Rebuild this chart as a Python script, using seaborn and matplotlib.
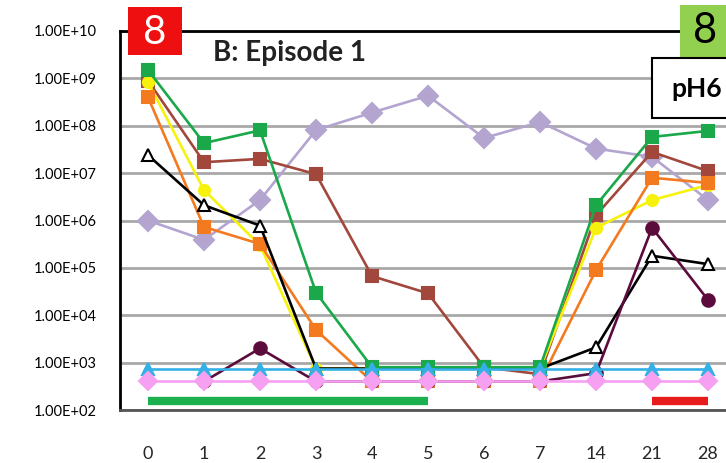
import seaborn as sns
import matplotlib.pyplot as plt
import numpy as np
import pandas as pd
from matplotlib.patches import Rectangle
from matplotlib.ticker import FixedLocator, FuncFormatter, LogLocator, NullFormatter

sns.set_style("white")
plt.rcParams["font.family"] = ["Lato", "DejaVu Sans"]

# sampling days (categorical x axis)
days = ["0", "1", "2", "3", "4", "5", "6", "7", "14", "21", "28"]

# counts per series
green_sq = [1.5e9, 4.3e7, 8.0e7, 3.0e4, 8e2, 8e2, 8e2, 8e2, 2.1e6, 5.8e7, 7.8e7]
brown_sq = [9.0e8, 1.7e7, 2.0e7, 9.5e6, 6.7e4, 2.9e4, 8e2, 5.7e2, 1.3e6, 2.8e7, 1.1e7]
orange_sq = [4.0e8, 7.3e5, 3.2e5, 4.9e3, 4e2, 4e2, 4e2, 4e2, 9.0e4, 8.0e6, 6.2e6]
yellow_ci = [8.3e8, 4.4e6, 3.0e5, 7.5e2, 7.5e2, 7.5e2, 7.5e2, 7.5e2, 7.0e5, 2.7e6, 5.6e6]
black_tri = [2.4e7, 2.1e6, 7.8e5, 7.5e2, 7.5e2, 7.5e2, 7.5e2, 7.5e2, 2.1e3, 1.8e5, 1.2e5]
maroon_ci = [np.nan, 4e2, 2.0e3, 4e2, 4e2, 4e2, 4e2, 4e2, 6e2, 7.0e5, 2.1e4]
purple_di = [1.0e6, 3.9e5, 2.7e6, 8.1e7, 1.9e8, 4.3e8, 5.5e7, 1.2e8, 3.3e7, 2.2e7, 2.7e6]
cyan_tri = [7.5e2] * 11
pink_di = [4e2] * 11

# treatment bars near the bottom
green_bar = [1.55e2] * 6 + [np.nan] * 5
red_bar = [np.nan] * 9 + [1.55e2] * 2

pos = np.arange(len(days))

fig = plt.figure(figsize=(7.26, 4.63), dpi=100)
ax = fig.add_axes([120 / 726, 1 - 410 / 463, 606 / 726, 379 / 463])

series = [
    (purple_di, "#b3a4d0", "D", 10, "#b3a4d0"),
    (brown_sq, "#a2473c", "s", 9, "#a2473c"),
    (yellow_ci, "#f7f20c", "o", 8, "#f7f20c"),
    (orange_sq, "#f47a20", "s", 9, "#f47a20"),
    (black_tri, "black", "^", 9, "white"),
    (green_sq, "#1aa84b", "s", 9, "#1aa84b"),
    (maroon_ci, "#5c0c3c", "o", 9, "#5c0c3c"),
    (cyan_tri, "#34b0e6", "^", 9, "#34b0e6"),
    (pink_di, "#f6a0f2", "D", 9, "#f6a0f2"),
]

for i, (vals, col, mk, ms, fc) in enumerate(series):
    df = pd.DataFrame({"x": pos, "y": vals})
    sns.lineplot(data=df, x="x", y="y", ax=ax, color=col, marker=mk,
                 markersize=ms, markerfacecolor=fc, markeredgecolor=col,
                 markeredgewidth=1.5, linewidth=1.9, zorder=3 + i)

for vals, col in [(green_bar, "#1db04f"), (red_bar, "#e81c1c")]:
    df = pd.DataFrame({"x": pos, "y": vals})
    sns.lineplot(data=df, x="x", y="y", ax=ax, color=col, linewidth=6,
                 solid_capstyle="butt", zorder=3)

ax.set_yscale("log")
ax.set_ylim(1e2, 1e10)
ax.set_xlim(-0.5, 10.32)
ax.set_xlabel("")
ax.set_ylabel("")

ax.yaxis.set_major_locator(FixedLocator([10.0 ** k for k in range(2, 11)]))
ax.yaxis.set_major_formatter(FuncFormatter(lambda v, p: f"{v:.2E}"))
ax.yaxis.set_minor_locator(LogLocator(base=10, subs=np.arange(2, 10)))
ax.yaxis.set_minor_formatter(NullFormatter())
ax.tick_params(axis="y", which="major", direction="out", length=5, width=1.5,
               labelsize=10.5, colors="black", pad=12)
ax.tick_params(axis="y", which="minor", direction="inout", length=4, width=1)
ax.grid(axis="y", which="major", color="#a8a8a8", linewidth=2)

ax.set_xticks(pos)
ax.set_xticklabels(days)
ax.set_xticks(pos[:-1] + 0.5, minor=True)
ax.tick_params(axis="x", which="major", length=0, labelsize=13, pad=26)
ax.tick_params(axis="x", which="minor", direction="out", length=6, width=1.5,
               color="#333333")

ax.spines["right"].set_visible(False)
ax.spines["left"].set_color("black")
ax.spines["left"].set_linewidth(2)
ax.spines["top"].set_color("black")
ax.spines["top"].set_linewidth(2)
ax.spines["bottom"].set_color("#555555")
ax.spines["bottom"].set_linewidth(2)


def fig_box(x0, y0, x1, y1, fc, ec="none", lw=0):
    # box given in pixels from the top-left corner
    fig.patches.append(Rectangle((x0 / 726, 1 - y1 / 463), (x1 - x0) / 726,
                                 (y1 - y0) / 463, transform=fig.transFigure,
                                 fc=fc, ec=ec, lw=lw, zorder=5))


fig_box(128, 7, 182, 55, "#ee1010")
fig_box(680, 5, 740, 58, "#92d050")
fig_box(652, 58, 745, 118, "white", ec="black", lw=1.5)

fig.text(155 / 726, 1 - 32 / 463, "8", color="white", fontsize=29,
         ha="center", va="center", zorder=6)
fig.text(705 / 726, 1 - 31 / 463, "8", color="black", fontsize=30,
         ha="center", va="center", zorder=6)
fig.text(697 / 726, 1 - 89 / 463, "pH6", color="black", fontsize=19,
         fontweight="bold", ha="center", va="center", zorder=6)
fig.text(213 / 726, 1 - 53 / 463, "B: Episode 1", color="#222222",
         fontsize=20, fontweight="bold", ha="left", va="center")

fig.savefig("out.png", dpi=100)
